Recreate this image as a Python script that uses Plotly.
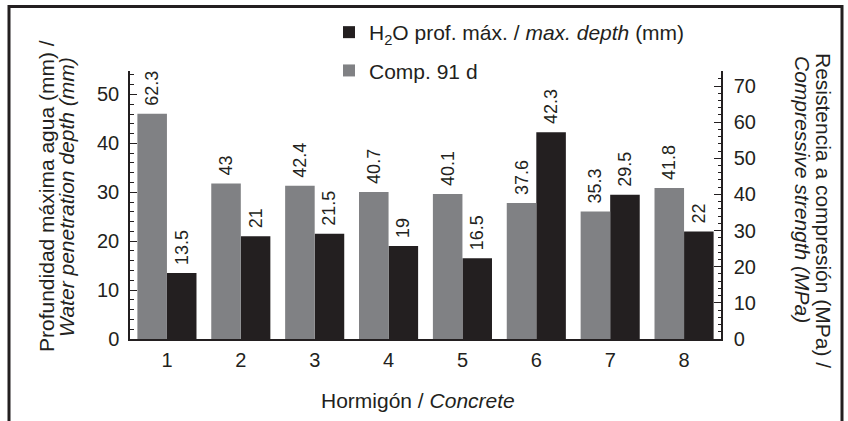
import plotly.graph_objects as go

# Concrete mixes and measured values
concretes = [1, 2, 3, 4, 5, 6, 7, 8]
concrete_labels = ["1", "2", "3", "4", "5", "6", "7", "8"]
water_depth_mm = [13.5, 21, 21.5, 19, 16.5, 42.3, 29.5, 22]
comp_strength_mpa = [62.3, 43, 42.4, 40.7, 40.1, 37.6, 35.3, 41.8]

left_ticks = [0, 10, 20, 30, 40, 50]
right_ticks = [0, 10, 20, 30, 40, 50, 60, 70]
group_edges = [1.5, 2.5, 3.5, 4.5, 5.5, 6.5, 7.5]

INK = "#231f20"
GREY = "#808184"
FONT = "Liberation Sans, Arial, sans-serif"

W, H = 848, 421
ML, MR, MT, MB = 130, 127, 71, 82
PW, PH = W - ML - MR, H - MT - MB


def px_x(x):
    return (x - ML) / PW


def px_y(y):
    return (H - MB - y) / PH


fig = go.Figure()

fig.add_trace(go.Bar(
    x=concretes, y=water_depth_mm,
    name="H<sub>2</sub>O prof. máx. / <i>max. depth</i> (mm)",
    marker=dict(color=INK, line=dict(width=0)),
    width=0.4, offset=0.0,
    texttemplate=" %{y}", textposition="outside", textangle=-90,
    textfont=dict(size=18, color=INK, family=FONT),
    constraintext="none", cliponaxis=False,
    yaxis="y", legendgroup="a",
))

fig.add_trace(go.Bar(
    x=concretes, y=comp_strength_mpa,
    name="Comp. 91 d",
    marker=dict(color=GREY, line=dict(width=0)),
    width=0.4, offset=-0.4,
    texttemplate=" %{y}", textposition="outside", textangle=-90,
    textfont=dict(size=18, color=INK, family=FONT),
    constraintext="none", cliponaxis=False,
    yaxis="y2", legendgroup="b",
))

axis_common = dict(showgrid=False, zeroline=False, linecolor=INK, linewidth=1.5,
                   tickcolor=INK, tickwidth=1,
                   tickfont=dict(size=20, color=INK, family=FONT))

fig.update_layout(
    width=W, height=H,
    margin=dict(l=ML, r=MR, t=MT, b=MB),
    paper_bgcolor="white", plot_bgcolor="white",
    font=dict(family=FONT, color=INK),
    barmode="overlay",
    showlegend=True,
    legend=dict(
        x=px_x(329), y=px_y(12), xanchor="left", yanchor="top",
        font=dict(size=21, color=INK, family=FONT),
        bgcolor="rgba(0,0,0,0)", traceorder="grouped", tracegroupgap=8,
    ),
    xaxis=dict(
        range=[0.5, 8.5], tickmode="array", tickvals=concretes,
        ticktext=concrete_labels, ticks="", showline=True, anchor="y",
        ticklabelstandoff=2,
        **axis_common,
    ),
    xaxis2=dict(
        range=[0.5, 8.5], overlaying="x", anchor="y", side="bottom",
        tickmode="array", tickvals=group_edges, ticks="inside", ticklen=7,
        showticklabels=False, showline=False, showgrid=False, zeroline=False,
        tickcolor=INK, tickwidth=1,
        minor=dict(tick0=0.5, dtick=0.2, ticks="inside", ticklen=4,
                   tickcolor=INK, tickwidth=1, showgrid=False),
    ),
    yaxis=dict(
        range=[0, 54.8], tickmode="array", tickvals=left_ticks,
        ticks="inside", ticklen=7, showline=True, anchor="x", side="left",
        minor=dict(dtick=2, ticks="inside", ticklen=4, tickcolor=INK,
                   tickwidth=1, showgrid=False),
        ticklabelstandoff=5,
        **axis_common,
    ),
    yaxis2=dict(
        range=[0, 74.15], tickmode="array", tickvals=right_ticks,
        ticks="inside", ticklen=7, showline=True, overlaying="y",
        anchor="x", side="right",
        minor=dict(dtick=2, ticks="inside", ticklen=3, tickcolor=INK,
                   tickwidth=1, showgrid=False),
        ticklabelstandoff=7,
        **axis_common,
    ),
)

title_font = dict(size=21, color=INK, family=FONT)
annotations = [
    dict(text="Profundidad máxima agua (mm) /", x=px_x(46), y=px_y(196),
         textangle=-90),
    dict(text="<i>Water penetration depth (mm)</i>", x=px_x(66), y=px_y(197),
         textangle=-90),
    dict(text="Resistencia a compresión (MPa) /", x=px_x(824), y=px_y(210),
         textangle=90),
    dict(text="<i>Compressive strength (MPa)</i>", x=px_x(803), y=px_y(189),
         textangle=90),
    dict(text="Hormigón / <i>Concrete</i>", x=px_x(418), y=px_y(400),
         textangle=0),
]
for a in annotations:
    fig.add_annotation(xref="paper", yref="paper", showarrow=False,
                       xanchor="center", yanchor="middle",
                       font=title_font, **a)

# Outer frame around the figure (open at the bottom edge)
fig.add_shape(type="path", xref="paper", yref="paper",
              path=f"M {px_x(9)} {px_y(440)} L {px_x(9)} {px_y(6.5)} "
                   f"L {px_x(842)} {px_y(6.5)} L {px_x(842)} {px_y(440)}",
              line=dict(color=INK, width=3))

fig.write_html("out.html")
